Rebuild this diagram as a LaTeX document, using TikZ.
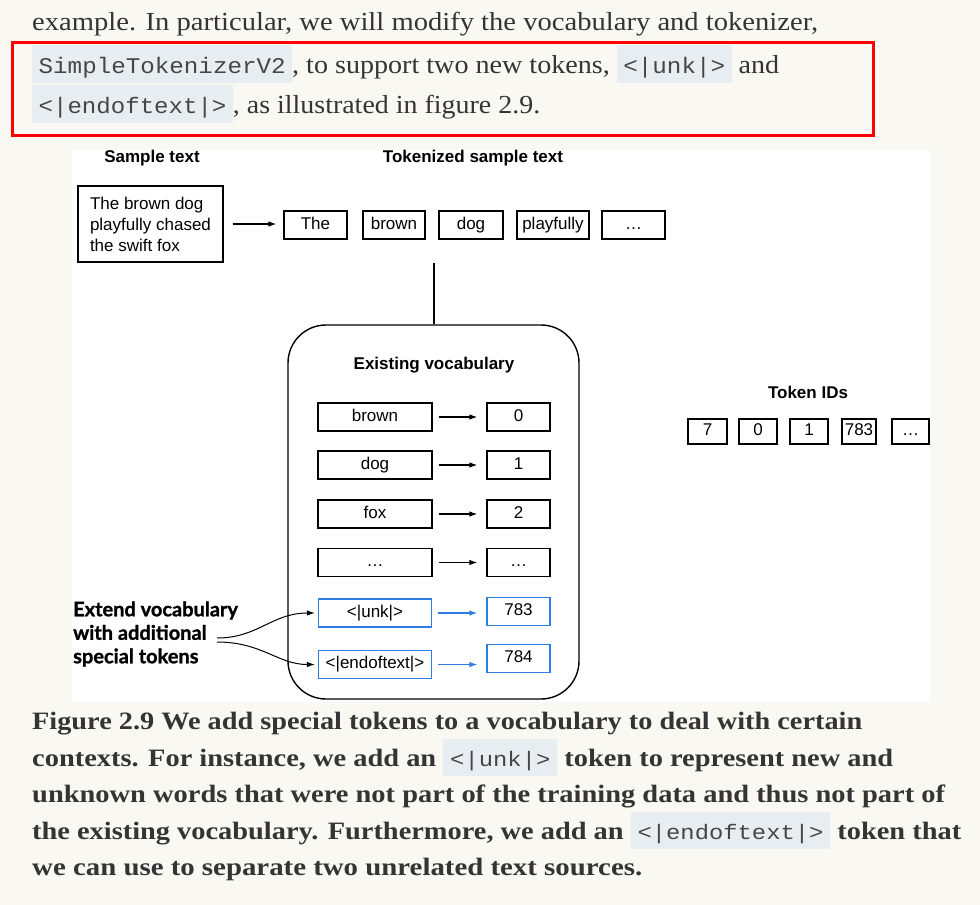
\documentclass[tikz,border=0pt]{standalone}
\usepackage{fontspec}
\usepackage{graphicx}
\setmainfont{Liberation Serif}
\newfontfamily\diagfont{Liberation Sans}
\newfontfamily\codefont{Liberation Mono}
\newfontfamily\extfont[BoldFeatures={FakeBold=1.2}]{Lato}
\usetikzlibrary{arrows.meta,calc}
\definecolor{pagebg}{RGB}{249,248,243}
\definecolor{codebg}{RGB}{232,237,242}
\definecolor{txt}{RGB}{52,52,52}
\definecolor{codetxt}{RGB}{70,70,70}
\definecolor{blu}{RGB}{45,125,230}
\newcommand\codeb[1]{{\setlength\fboxsep{0pt}\colorbox{codebg}{\rule[-10pt]{0pt}{38pt}\hspace{6pt}{\codefont\fontsize{22.4}{27}\selectfont\color{codetxt}#1}\hspace{6pt}}}}
\newcommand\codec[1]{{\setlength\fboxsep{0pt}\colorbox{codebg}{\rule[-10pt]{0pt}{37pt}\hspace{6pt}{\codefont\mdseries\fontsize{21}{26}\selectfont\color{codetxt}#1}\hspace{6pt}}}}
\newcommand\fitline[2]{\resizebox{#1}{\height}{#2}}
\begin{document}
\begin{tikzpicture}[x=1pt,y=-1pt,
  tokbox/.style={draw, line width=1.2pt, minimum height=28pt, inner sep=0pt, text height=12pt, text depth=3.5pt, font=\diagfont\fontsize{17}{20}\selectfont},
  idbox/.style={tokbox, minimum height=25pt},
  blubox/.style={tokbox, draw=blu},
  arr/.style={-{Latex[length=8pt,width=5.5pt]}, line width=1.2pt},
  bluarr/.style={arr, draw=blu, -{Latex[length=8pt,width=5.5pt,fill=blu]}},
  lbl/.style={font=\diagfont\bfseries\fontsize{17}{20}\selectfont},
  bodyline/.style={anchor=base west, inner sep=0pt, text=txt, font=\fontsize{26}{30}\selectfont},
  capline/.style={anchor=base west, inner sep=0pt, text=txt, font=\bfseries\fontsize{25}{29}\selectfont}
]
\fill[pagebg] (0,0) rectangle (980,905);
\useasboundingbox (0,0) rectangle (980,905);
\fill[white] (72,150) rectangle (930,702);

% top text
\node[bodyline] (t1) at (32,30) {\fitline{786pt}{example. In particular, we will modify the vocabulary and tokenizer,}};
\node[bodyline] (t2) at (32,73) {\fitline{747pt}{\codeb{SimpleTokenizerV2}, to support two new tokens, \codeb{<|unk|>} and}};
\node[bodyline] (t3) at (32,113) {\fitline{508pt}{\codeb{<|endoftext|>}, as illustrated in figure 2.9.}};
\draw[red, line width=3pt] (12,42) rectangle (873,135);

% labels
\node[lbl] (lsample) at (152,158) {Sample text};
\node[lbl] (ltok) at (473,158) {Tokenized sample text};
\node[lbl] (lids) at (808,392) {Token IDs};

% sample text
\node[draw, line width=1.2pt, minimum width=145pt, minimum height=76pt, inner sep=0pt, align=left,
  font=\diagfont\fontsize{17}{21}\selectfont] (sample) at (150.5,224) {The brown dog\\playfully chased\\the swift fox};

% tokens
\node[tokbox, minimum width=63pt] (tThe) at (315.5,225) {The};
\node[tokbox, minimum width=62pt] (tbrown) at (394,225) {brown};
\node[tokbox, minimum width=64pt] (tdog) at (471,225) {dog};
\node[tokbox, minimum width=72pt] (tplay) at (553,225) {playfully};
\node[tokbox, minimum width=63pt] (tdots) at (633.5,225) {…};
\draw[arr] ([xshift=9pt]sample.east) -- ($(sample.east -| tThe.west)+(-7,0)$);

% token ids
\node[idbox, minimum width=39pt] (id7) at (707.5,431.5) {7};
\node[idbox, minimum width=38pt] (id0) at (758,431.5) {0};
\node[idbox, minimum width=38pt] (id1) at (809,431.5) {1};
\node[idbox, minimum width=34pt] (id783) at (859,431.5) {783};
\node[idbox, minimum width=37pt] (iddots) at (910.5,431.5) {…};

% vocabulary
\node[draw, line width=1.4pt, rounded corners=38pt, minimum width=291pt, minimum height=374pt] (vocab) at (433.5,512) {};
\node[lbl] (lvocab) at (434,365) {Existing vocabulary};
\coordinate (vtop) at (434,263);
\draw[line width=1.2pt] (vtop) -- (vtop |- vocab.north);

\node[tokbox, minimum width=114pt] (wbrown) at (375,417) {brown};
\node[tokbox, minimum width=114pt] (wdog) at (375,465) {dog};
\node[tokbox, minimum width=114pt] (wfox) at (375,514) {fox};
\node[tokbox, minimum width=114pt] (wdots) at (375,562.5) {…};
\node[blubox, minimum width=113pt] (wunk) at (375,613) {<|unk|>};
\node[blubox, minimum width=113pt] (weot) at (375,664.5) {<|endoftext|>};

\node[tokbox, minimum width=63pt] (i0) at (518.5,417) {0};
\node[tokbox, minimum width=63pt] (i1) at (518.5,465) {1};
\node[tokbox, minimum width=63pt] (i2) at (518.5,514) {2};
\node[tokbox, minimum width=63pt] (idd) at (518.5,562.5) {…};
\node[blubox, minimum width=63pt] (i783) at (518.5,611.5) {783};
\node[blubox, minimum width=63pt] (i784) at (518.5,658.5) {784};

\draw[arr] ([xshift=6pt]wbrown.east) -- ($(wbrown.east -| i0.west)+(-9,0)$);
\draw[arr] ([xshift=6pt]wdog.east) -- ($(wdog.east -| i1.west)+(-9,0)$);
\draw[arr] ([xshift=6pt]wfox.east) -- ($(wfox.east -| i2.west)+(-9,0)$);
\draw[arr] ([xshift=6pt]wdots.east) -- ($(wdots.east -| idd.west)+(-9,0)$);
\draw[bluarr] ([xshift=6pt]wunk.east) -- ($(wunk.east -| i783.west)+(-9,0)$);
\draw[bluarr] ([xshift=6pt]weot.east) -- ($(weot.east -| i784.west)+(-9,0)$);

% extend label
\node[anchor=west, inner sep=0pt, align=left, font=\extfont\bfseries\fontsize{20}{23.5}\selectfont] (ext) at (73,634) {Extend vocabulary\\with additional\\special tokens};
\coordinate (c1) at (217,638);
\coordinate (c2) at (217,642);
\draw[arr, line width=1pt] (c1) .. controls (258,638) and (272,613) .. ($(wunk.west)+(-3,0)$);
\draw[arr, line width=1pt] (c2) .. controls (262,642) and (278,664.5) .. ($(weot.west)+(-3,0)$);

% caption
\node[capline] (c1l) at (32,729) {\fitline{830pt}{Figure 2.9 We add special tokens to a vocabulary to deal with certain}};
\node[capline] (c2l) at (32,766) {\fitline{861pt}{contexts. For instance, we add an \codec{<|unk|>} token to represent new and}};
\node[capline] (c3l) at (32,802) {\fitline{913pt}{unknown words that were not part of the training data and thus not part of}};
\node[capline] (c4l) at (32,839) {\fitline{929pt}{the existing vocabulary. Furthermore, we add an \codec{<|endoftext|>} token that}};
\node[capline] (c5l) at (32,875) {\fitline{610pt}{we can use to separate two unrelated text sources.}};
\end{tikzpicture}
\end{document}
